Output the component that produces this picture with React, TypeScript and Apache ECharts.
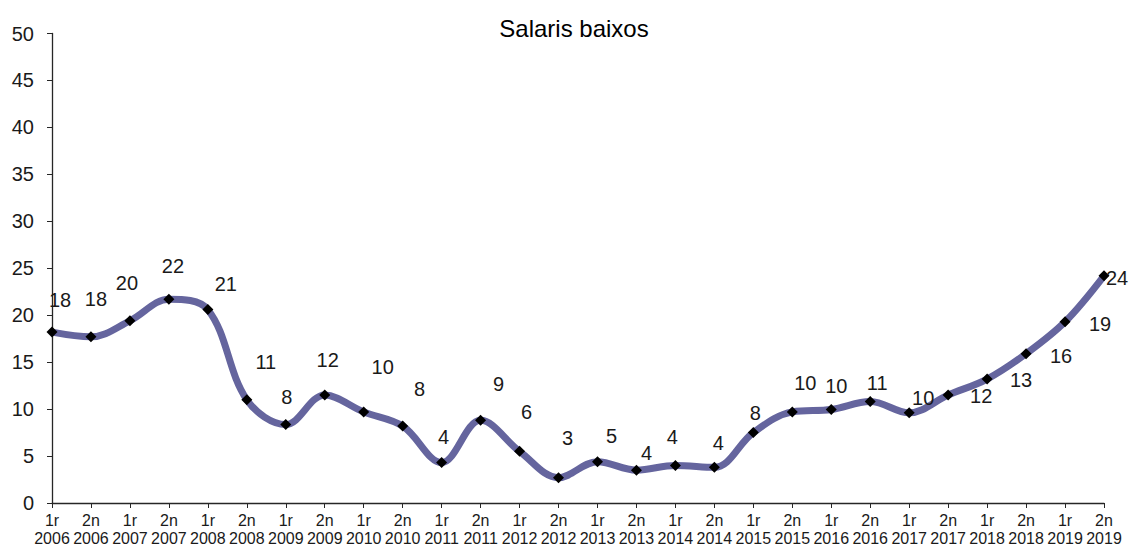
import React, { useEffect, useRef } from "react";
import * as echarts from "echarts";

const categories = [
  "1r\n2006", "2n\n2006", "1r\n2007", "2n\n2007", "1r\n2008", "2n\n2008", "1r\n2009", "2n\n2009",
  "1r\n2010", "2n\n2010", "1r\n2011", "2n\n2011", "1r\n2012", "2n\n2012", "1r\n2013", "2n\n2013",
  "1r\n2014", "2n\n2014", "1r\n2015", "2n\n2015", "1r\n2016", "2n\n2016", "1r\n2017", "2n\n2017",
  "1r\n2018", "2n\n2018", "1r\n2019", "2n\n2019",
];

const values = [
  18.2, 17.7, 19.4, 21.7, 20.6, 11.0, 8.35, 11.5,
  9.7, 8.2, 4.3, 8.8, 5.5, 2.7, 4.4, 3.5,
  4.0, 3.8, 7.5, 9.7, 9.95, 10.8, 9.6, 11.5,
  13.2, 15.9, 19.3, 24.2,
];

const labelValues = [
  18, 18, 20, 22, 21, 11, 8, 12,
  10, 8, 4, 9, 6, 3, 5, 4,
  4, 4, 8, 10, 10, 11, 10, 12,
  13, 16, 19, 24,
];

const yTicks = { min: 0, max: 50, interval: 5 };

// label offsets relative to the marker (styling, not data)
const labelOffsets: [number, number][] = [
  [8, -32], [5, -38], [-3, -38], [4, -33], [18, -26], [19, -38], [1, -28], [3, -35],
  [19, -45], [17, -37], [2, -26], [18, -36], [7, -39], [9, -40], [14, -26], [10, -17],
  [-3, -28], [4, -24], [2, -20], [13, -29], [5, -24], [7, -19], [14, -15], [33, 1],
  [34, 1], [35, 2], [35, 2], [13, 2],
];

export default function App() {
  const ref = useRef<HTMLDivElement>(null);
  useEffect(() => {
    document.body.style.margin = "0";
    const chart = echarts.init(ref.current!, null, { renderer: "svg" });
    const font = "Liberation Sans, Arial, sans-serif";
    chart.setOption({
      animation: false,
      backgroundColor: "#ffffff",
      title: {
        text: "Salaris baixos",
        left: 569,
        textAlign: "center",
        top: 11,
        textStyle: { fontFamily: font, fontSize: 24, fontWeight: "normal", color: "#000" },
      },
      grid: { left: 52, right: 27, top: 33.5, bottom: 43.5, containLabel: false },
      xAxis: {
        type: "category",
        data: categories,
        boundaryGap: false,
        axisLine: { lineStyle: { color: "#262626", width: 1.3 } },
        axisTick: { show: true, length: 5, alignWithLabel: true, lineStyle: { color: "#262626" } },
        axisLabel: {
          interval: 0,
          margin: 8,
          fontFamily: font,
          fontSize: 16,
          lineHeight: 18,
          color: "#1a1a1a",
        },
        splitLine: { show: false },
      },
      yAxis: {
        type: "value",
        min: yTicks.min,
        max: yTicks.max,
        interval: yTicks.interval,
        axisLine: { show: true, lineStyle: { color: "#262626", width: 1.3 } },
        axisTick: { show: true, length: 5, lineStyle: { color: "#262626" } },
        axisLabel: { margin: 18, fontFamily: font, fontSize: 20, color: "#1a1a1a" },
        splitLine: { show: false },
      },
      series: [
        {
          type: "line",
          smooth: 0.36,
          data: values.map((v, i) => ({
            value: v,
            label: { offset: labelOffsets[i] },
          })),
          lineStyle: { color: "#65659e", width: 7 },
          itemStyle: { color: "#000" },
          symbol: "diamond",
          symbolSize: 11,
          label: {
            show: true,
            position: "inside",
            fontFamily: font,
            fontSize: 20,
            color: "#1a1a1a",
            formatter: (p: any) => String(labelValues[p.dataIndex]),
          },
          emphasis: { disabled: true },
        },
      ],
    });
    return () => chart.dispose();
  }, []);
  return <div ref={ref} style={{ width: 1131, height: 547 }} />;
}
